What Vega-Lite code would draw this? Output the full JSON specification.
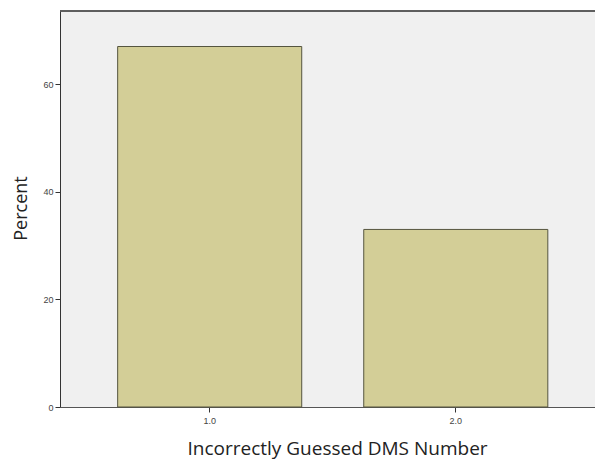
{
  "$schema": "https://vega.github.io/schema/vega-lite/v6.json",
  "autosize": "none",
  "width": 535,
  "height": 396,
  "padding": {"left": 60, "top": 11, "right": 0, "bottom": 59},
  "background": "white",
  "config": {
    "view": {"fill": "#f0f0f0", "stroke": null},
    "font": "Open Sans"
  },
  "data": {"values": [
    {"number": "1.0", "percent": 67},
    {"number": "2.0", "percent": 33}
  ]},
  "layer": [
    {
      "mark": {"type": "bar", "color": "#d3ce97", "stroke": "#55553f", "strokeWidth": 1},
      "encoding": {
        "x": {
          "field": "number", "type": "ordinal",
          "scale": {"paddingInner": 0.252, "paddingOuter": 0.213, "align": 0.55},
          "axis": {
            "title": "Incorrectly Guessed DMS Number",
            "titleFont": "Open Sans", "titleFontSize": 19, "titleFontWeight": "normal", "titleColor": "#222",
            "titlePadding": 14, "titleX": 277, "titleAlign": "center",
            "labelAngle": 0, "labelFontSize": 9, "labelColor": "#444", "labelFont": "Arial", "labelPadding": 4,
            "domainColor": "#555", "tickColor": "#333", "tickSize": 5
          }
        },
        "y": {
          "field": "percent", "type": "quantitative",
          "scale": {"domain": [0, 73.6], "nice": false},
          "axis": {
            "title": "Percent",
            "values": [0, 20, 40, 60],
            "grid": false,
            "titleFont": "Open Sans", "titleFontSize": 18, "titleFontWeight": "normal", "titleColor": "#222",
            "titlePadding": 12, "titleY": 197, "titleAlign": "center",
            "labelFontSize": 9, "labelColor": "#444", "labelFont": "Arial",
            "domainColor": "#333", "tickColor": "#333", "tickSize": 5
          }
        }
      }
    },
    {
      "mark": {"type": "rule", "color": "#555", "strokeWidth": 1.5},
      "encoding": {"y": {"datum": 73.6}}
    }
  ]
}
